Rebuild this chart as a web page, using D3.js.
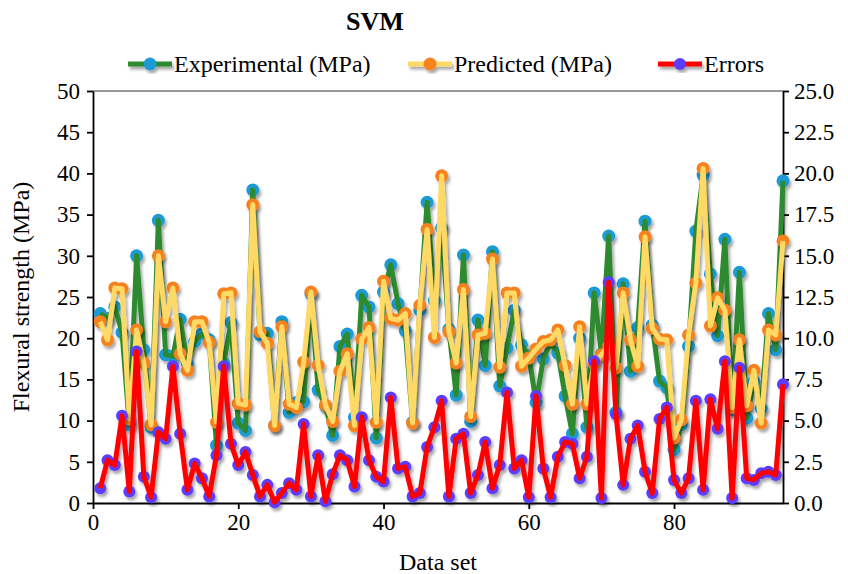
<!DOCTYPE html>
<html>
<head>
<meta charset="utf-8">
<script src="https://cdn.jsdelivr.net/npm/d3@7"></script>
<style>
  body { margin: 0; background: #fff; }
  svg text { font-family: "Liberation Serif", "Times New Roman", serif; fill: #000; }
</style>
</head>
<body>
<div id="chart"></div>
<script>
// values (data sets 1..95)
const experimental = [
  23.0, 22.4, 23.8, 20.7, 9.5, 30.0, 18.6, 9.2, 34.3, 18.0,
  17.8, 22.3, 16.9, 19.6, 20.5, 19.8, 7.0, 17.0, 21.9, 9.7,
  8.8, 38.0, 20.4, 20.6, 9.4, 22.0, 11.0, 12.2, 12.3, 25.4,
  13.7, 11.8, 8.2, 19.0, 20.5, 10.4, 25.2, 23.8, 7.9, 25.6,
  28.9, 24.2, 20.9, 9.8, 23.4, 36.5, 24.6, 33.4, 21.1, 13.1,
  30.1, 9.9, 22.2, 16.7, 30.5, 14.2, 18.8, 23.4, 19.2, 17.9,
  12.2, 17.5, 19.5, 18.2, 13.0, 8.4, 20.0, 9.2, 25.5, 18.1,
  32.4, 11.0, 26.6, 16.0, 21.3, 34.2, 21.6, 14.8, 14.0, 6.5,
  9.5, 19.0, 33.0, 39.8, 27.8, 20.3, 32.0, 11.3, 28.0, 10.3,
  14.7, 11.5, 23.0, 18.6, 39.1
];
const predicted = [
  22.0, 19.8, 26.1, 26.0, 10.2, 21.0, 17.0, 9.5, 30.0, 22.0,
  26.1, 18.1, 16.1, 22.0, 22.0, 19.5, 9.8, 25.4, 25.5, 12.1,
  11.9, 36.2, 20.8, 19.4, 9.4, 21.4, 12.0, 11.6, 17.1, 25.6,
  16.7, 11.9, 9.9, 16.0, 18.1, 9.4, 19.9, 21.3, 9.8, 26.9,
  22.4, 22.2, 23.0, 9.7, 24.0, 33.2, 20.1, 39.7, 20.8, 17.0,
  25.9, 10.5, 20.4, 20.6, 29.6, 16.5, 25.5, 25.5, 16.6, 17.6,
  18.7, 19.6, 19.8, 21.0, 16.7, 12.0, 21.4, 12.0, 16.9, 18.0,
  19.0, 16.4, 25.5, 19.8, 16.6, 32.3, 21.2, 19.9, 19.8, 7.9,
  10.1, 20.4, 26.7, 40.6, 21.5, 24.9, 23.4, 11.6, 19.8, 11.8,
  16.1, 9.7, 21.0, 20.4, 31.8
];
const errors = [
  0.9, 2.6, 2.3, 5.3, 0.7, 9.2, 1.6, 0.35, 4.3, 3.9,
  8.3, 4.2, 0.8, 2.4, 1.5, 0.4, 2.9, 8.3, 3.6, 2.3,
  3.1, 1.7, 0.4, 1.1, 0.05, 0.6, 1.2, 0.8, 4.8, 0.4,
  2.9, 0.1, 1.75, 2.9, 2.6, 1.0, 5.2, 2.6, 1.6, 1.3,
  6.4, 2.1, 2.2, 0.4, 0.6, 3.4, 4.6, 6.2, 0.4, 3.9,
  4.2, 0.6, 1.7, 3.7, 0.9, 2.3, 6.7, 2.1, 2.6, 0.35,
  6.5, 2.1, 0.35, 2.8, 3.7, 3.6, 1.5, 2.8, 8.6, 0.3,
  13.4, 5.4, 1.1, 3.9, 4.7, 1.9, 0.6, 5.1, 5.8, 1.4,
  0.6, 1.5, 6.2, 0.8, 6.3, 4.5, 8.6, 0.3, 8.2, 1.5,
  1.4, 1.8, 1.9, 1.7, 7.2
];
const leftTicks = [0, 5, 10, 15, 20, 25, 30, 35, 40, 45, 50];
const rightTicks = [0, 2.5, 5, 7.5, 10, 12.5, 15, 17.5, 20, 22.5, 25];
const xTicks = [0, 20, 40, 60, 80];

const W = 848, H = 574;
const m = { left: 93, right: 65, top: 91, bottom: 71 };

const svg = d3.select('#chart').append('svg')
  .attr('width', W).attr('height', H);

const defs = svg.append('defs');
defs.append('filter').attr('id', 'shadow')
  .attr('x', '-10%').attr('y', '-10%').attr('width', '130%').attr('height', '130%')
  .append('feDropShadow')
  .attr('dx', 2).attr('dy', 3).attr('stdDeviation', 1.8)
  .attr('flood-color', '#000').attr('flood-opacity', 0.35);

const x = d3.scaleLinear().domain([0, 95]).range([m.left, W - m.right]);
const yL = d3.scaleLinear().domain([0, 50]).range([H - m.bottom, m.top]);
const yR = d3.scaleLinear().domain([0, 25]).range([H - m.bottom, m.top]);

// frame top line
svg.append('line')
  .attr('x1', x(0)).attr('x2', x(95))
  .attr('y1', yL(50)).attr('y2', yL(50))
  .attr('stroke', '#333').attr('stroke-width', 1.2);

// axes
const axL = svg.append('g').attr('transform', `translate(${x(0)},0)`)
  .call(d3.axisLeft(yL).tickValues(leftTicks).tickSize(6).tickSizeOuter(0).tickPadding(7));
const axR = svg.append('g').attr('transform', `translate(${x(95)},0)`)
  .call(d3.axisRight(yR).tickValues(rightTicks).tickSize(6).tickSizeOuter(0).tickPadding(5)
    .tickFormat(d3.format('.1f')));
const axB = svg.append('g').attr('transform', `translate(0,${yL(0)})`)
  .call(d3.axisBottom(x).tickValues(xTicks).tickSize(6).tickSizeOuter(0).tickPadding(5));

[axL, axR, axB].forEach(g => {
  g.selectAll('path, line').attr('stroke', '#000').attr('stroke-width', 1.8);
  g.selectAll('text').attr('font-size', 23).attr('fill', '#000')
    .style('font-family', '"Liberation Serif", serif');
});

// series
const series = [
  { name: 'Experimental (MPa)', values: experimental, y: yL, line: '#2e8a2e', dot: '#1e9ad6', r: 6.5 },
  { name: 'Predicted (MPa)', values: predicted, y: yL, line: '#ffd966', dot: '#f5821f', r: 6.5 },
  { name: 'Errors', values: errors, y: yR, line: '#ff0000', dot: '#5a3cff', r: 6 }
];

series.forEach(s => {
  const g = svg.append('g').attr('filter', 'url(#shadow)');
  g.selectAll('circle').data(s.values).join('circle')
    .attr('cx', (d, i) => x(i + 1))
    .attr('cy', d => s.y(d))
    .attr('r', s.r)
    .attr('fill', s.dot);
  const line = d3.line().x((d, i) => x(i + 1)).y(d => s.y(d));
  g.append('path').datum(s.values)
    .attr('d', line)
    .attr('fill', 'none')
    .attr('stroke', s.line)
    .attr('stroke-width', 5)
    .attr('stroke-linejoin', 'round');
});

// title
svg.append('text').attr('x', 375).attr('y', 30)
  .attr('text-anchor', 'middle').attr('font-size', 26).attr('font-weight', 'bold')
  .text('SVM');

// legend
const legendX = [128, 408, 658];
const leg = svg.append('g');
series.forEach((s, i) => {
  const g = leg.append('g').attr('transform', `translate(${legendX[i]},64)`);
  const gs = g.append('g').attr('filter', 'url(#shadow)');
  gs.append('line').attr('x1', 0).attr('x2', 44).attr('y1', 0).attr('y2', 0)
    .attr('stroke', s.line).attr('stroke-width', 5);
  gs.append('circle').attr('cx', 22).attr('cy', 0).attr('r', s.r).attr('fill', s.dot);
  g.append('text').attr('x', 46).attr('y', 8).attr('font-size', 24).text(s.name);
});

// axis titles
svg.append('text')
  .attr('transform', `translate(29,${(yL(0) + yL(50)) / 2}) rotate(-90)`)
  .attr('text-anchor', 'middle').attr('font-size', 24)
  .text('Flexural strength (MPa)');
svg.append('text').attr('x', (x(0) + x(95)) / 2).attr('y', 570)
  .attr('text-anchor', 'middle').attr('font-size', 24)
  .text('Data set');
</script>
</body>
</html>
